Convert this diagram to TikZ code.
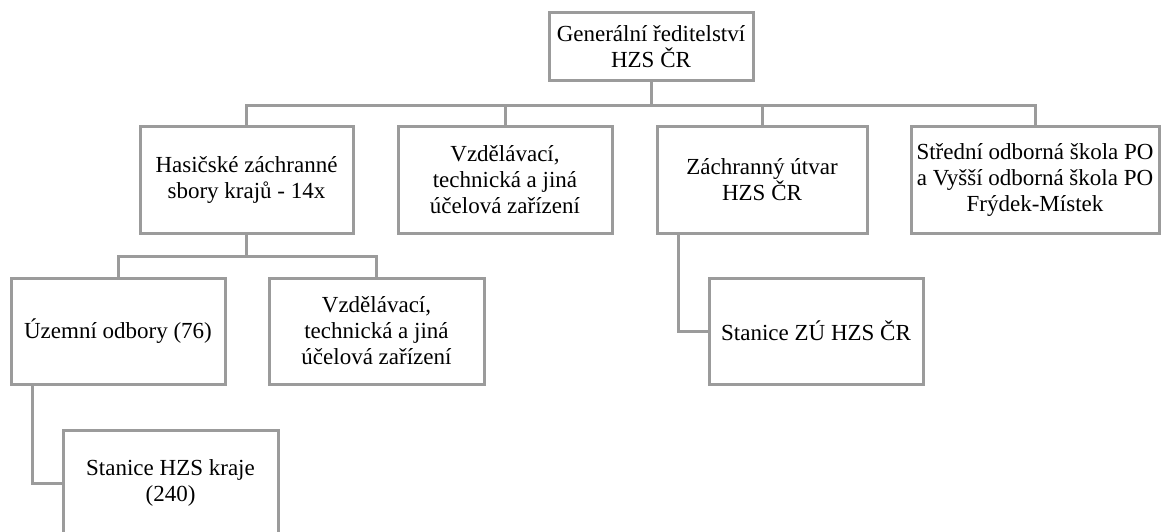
\documentclass[tikz,border=0pt]{standalone}
\usepackage{fontspec}
\setmainfont{Liberation Serif}
\definecolor{linegray}{RGB}{155,155,155}
\begin{document}
\begin{tikzpicture}[x=1pt,y=-1pt,
  orgbox/.style={draw=linegray, line width=3pt, fill=white, inner sep=0pt,
    align=center, font=\fontsize{23}{26}\selectfont, text=black},
  conn/.style={draw=linegray, line width=3pt}]
\useasboundingbox (0,0) rectangle (1164,532);
% level 1
\node[orgbox, minimum width=204, minimum height=68] (top) at (651,47) {Generální ředitelství\\HZS ČR};
% level 2
\node[orgbox, minimum width=213, minimum height=106] (has) at (246.5,180) {Hasičské záchranné\\sbory krajů - 14x};
\node[orgbox, minimum width=214, minimum height=106] (vzd) at (505,180) {Vzdělávací,\\technická a jiná\\účelová zařízení};
\node[orgbox, minimum width=210, minimum height=106] (zach) at (762,180) {Záchranný útvar\\HZS ČR};
\node[orgbox, minimum width=248, minimum height=106] (str) at (1035,180) {Střední odborná škola PO\\a Vyšší odborná škola PO\\Frýdek-Místek};
% level 3
\node[orgbox, minimum width=214, minimum height=106] (uzem) at (118,331) {Územní odbory (76)};
\node[orgbox, minimum width=215, minimum height=106] (vzdk) at (376.5,331) {Vzdělávací,\\technická a jiná\\účelová zařízení};
\node[orgbox, minimum width=214, minimum height=106] (stzu) at (816,331) {Stanice ZÚ HZS ČR};
% level 4
\node[orgbox, minimum width=215, minimum height=106] (stkr) at (170.5,483) {Stanice HZS kraje\\(240)};
% connectors
\foreach \c in {has,vzd,zach,str}
  \draw[conn] (top.south) -- ++(0,23) -| (\c.north);
\foreach \c in {uzem,vzdk}
  \draw[conn] (has.south) -- ++(0,22) -| (\c.north);
\draw[conn] ([xshift=-86pt]uzem.south) |- (stkr.west);
\draw[conn] ([xshift=-84pt]zach.south) |- (stzu.west);
\end{tikzpicture}
\end{document}
